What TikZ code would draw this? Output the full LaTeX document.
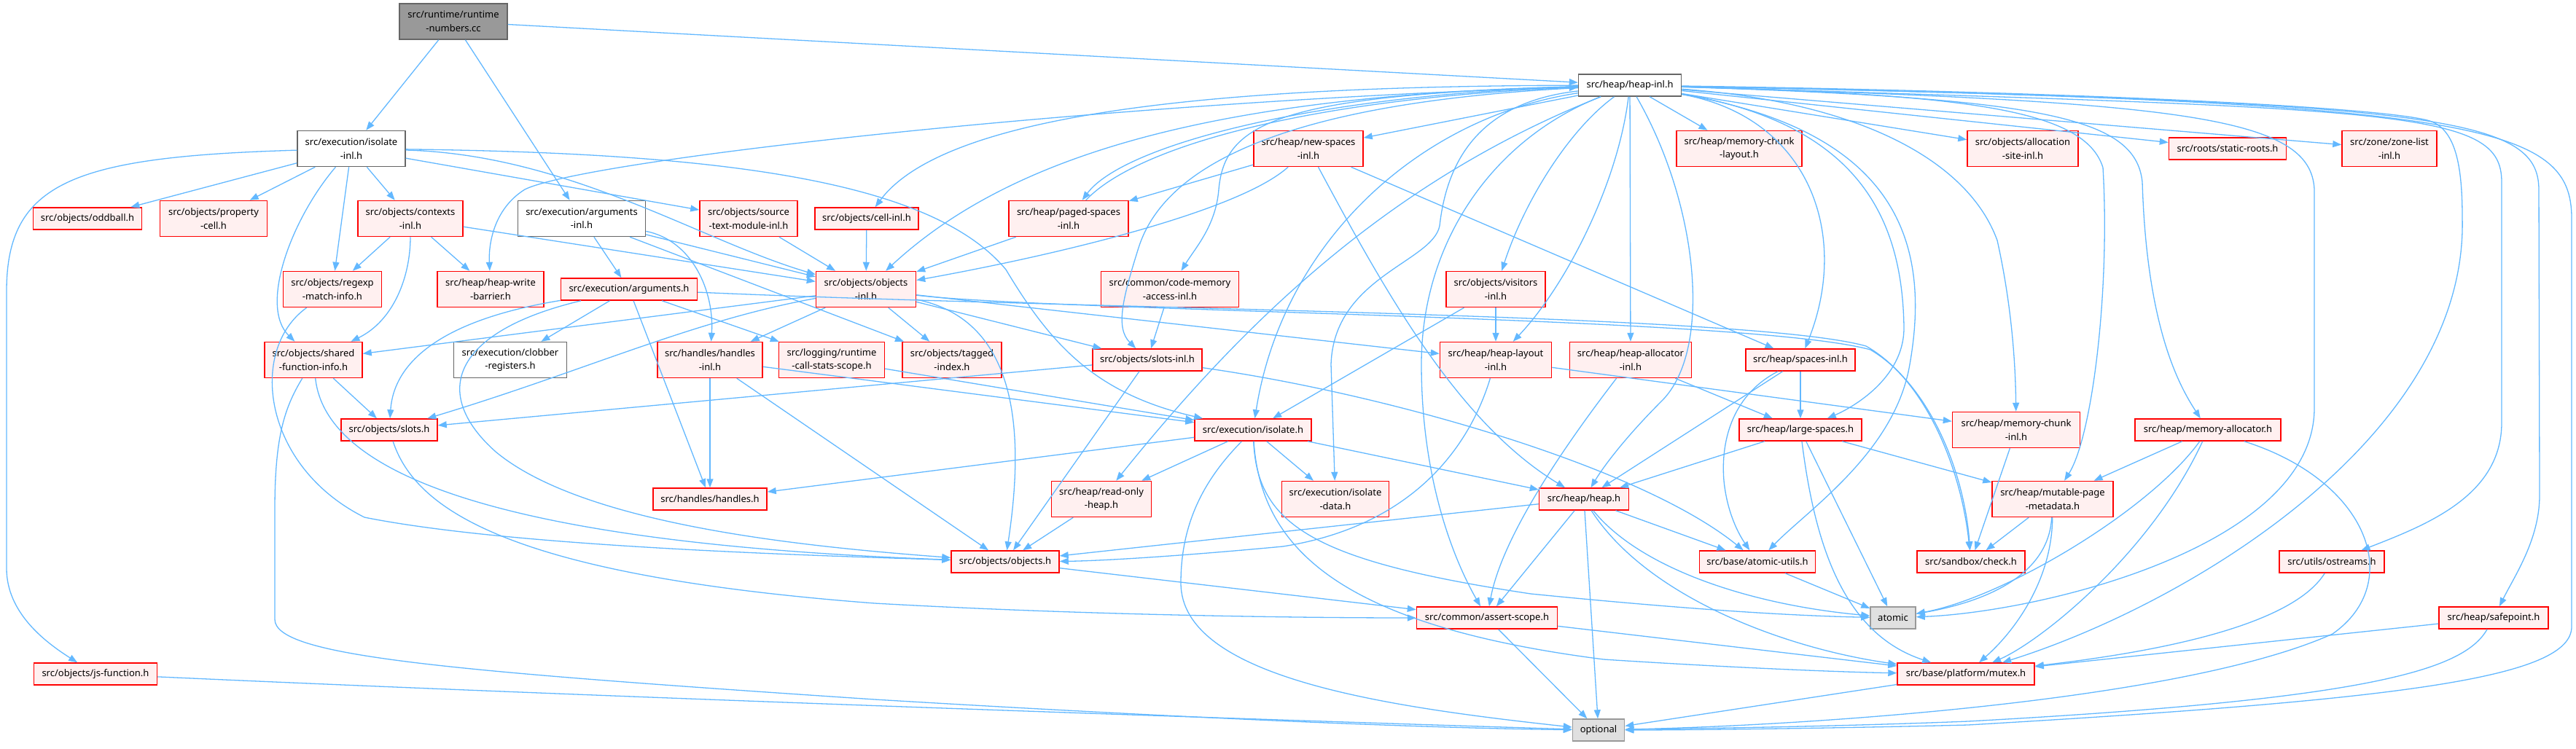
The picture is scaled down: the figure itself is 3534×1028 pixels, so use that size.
\documentclass[tikz,border=0pt]{standalone}
\usepackage{fontspec}
\setmainfont{Noto Sans}
\usetikzlibrary{arrows.meta}
\definecolor{edgec}{HTML}{63B8FF}
\definecolor{ndred}{HTML}{FF0000}
\definecolor{ndfill}{HTML}{FFF0F0}
\definecolor{ndgray}{HTML}{666666}
\definecolor{rootfill}{HTML}{999999}
\definecolor{leafdraw}{HTML}{999999}
\definecolor{leaffill}{HTML}{E0E0E0}
\newcommand{\ndfont}{\fontsize{13pt}{18.5pt}\selectfont}
\tikzset{
  box/.style={draw, rectangle, inner sep=0pt, align=center, line width=1.5pt, font=\ndfont, minimum height=30pt},
  two/.style={minimum height=49pt},
  hot/.style={box, draw=ndred, fill=ndfill},
  plain/.style={box, draw=ndgray, fill=white},
  rootnd/.style={box, draw=ndgray, fill=rootfill},
  leafnd/.style={box, draw=leafdraw, fill=leaffill},
  ed/.style={draw=edgec, line width=1.3pt, -{Triangle[length=12pt,width=9pt]}}
}
\begin{document}
\begin{tikzpicture}[x=1pt,y=-1pt]
\useasboundingbox (0,0) rectangle (3534,1028);
% nodes
\node[rootnd,two,minimum width=148pt] (RN) at (622,29.5) {src/runtime/runtime\\-numbers.cc};
\node[plain,minimum width=141pt] (HI) at (2236,117) {src/heap/heap-inl.h};
\node[plain,two,minimum width=148pt] (II) at (482,204) {src/execution/isolate\\-inl.h};
\node[hot,two,minimum width=150pt] (NS) at (1795,204) {src/heap/new-spaces\\-inl.h};
\node[hot,two,minimum width=172pt] (MCL) at (2386,204) {src/heap/memory-chunk\\-layout.h};
\node[hot,two,minimum width=152pt] (ASI) at (2775,204) {src/objects/allocation\\-site-inl.h};
\node[hot,minimum width=161pt] (SR) at (3056,204) {src/roots/static-roots.h};
\node[hot,two,minimum width=130pt] (ZL) at (3278,204) {src/zone/zone-list\\-inl.h};
\node[hot,minimum width=149pt] (OB) at (120,300) {src/objects/oddball.h};
\node[hot,two,minimum width=147pt] (PC) at (293,300) {src/objects/property\\-cell.h};
\node[hot,two,minimum width=144pt] (CI) at (563,300) {src/objects/contexts\\-inl.h};
\node[plain,two,minimum width=175pt] (AI) at (798,300) {src/execution/arguments\\-inl.h};
\node[hot,two,minimum width=134pt] (ST) at (1027,300) {src/objects/source\\-text-module-inl.h};
\node[hot,minimum width=142pt] (CL) at (1189,300) {src/objects/cell-inl.h};
\node[hot,two,minimum width=164pt] (PS) at (1466,300) {src/heap/paged-spaces\\-inl.h};
\node[hot,two,minimum width=135pt] (RX) at (456,397) {src/objects/regexp\\-match-info.h};
\node[hot,two,minimum width=146pt] (HWB) at (673,397) {src/heap/heap-write\\-barrier.h};
\node[hot,minimum width=187pt] (AH) at (863,397) {src/execution/arguments.h};
\node[hot,two,minimum width=137pt] (OI) at (1188,397) {src/objects/objects\\-inl.h};
\node[hot,two,minimum width=189pt] (CMA) at (1605,397) {src/common/code-memory\\-access-inl.h};
\node[hot,two,minimum width=136pt] (VI) at (2052,397) {src/objects/visitors\\-inl.h};
\node[hot,two,minimum width=134pt] (SFI) at (430,494) {src/objects/shared\\-function-info.h};
\node[plain,two,minimum width=155pt] (CR) at (700,494) {src/execution/clobber\\-registers.h};
\node[hot,two,minimum width=144pt] (HDI) at (974,494) {src/handles/handles\\-inl.h};
\node[hot,two,minimum width=145pt] (RCS) at (1141,494) {src/logging/runtime\\-call-stats-scope.h};
\node[hot,two,minimum width=136pt] (TI) at (1306,494) {src/objects/tagged\\-index.h};
\node[hot,minimum width=150pt] (SLI) at (1574,494) {src/objects/slots-inl.h};
\node[hot,two,minimum width=153pt] (HLI) at (2052,494) {src/heap/heap-layout\\-inl.h};
\node[hot,two,minimum width=167pt] (HAI) at (2237,494) {src/heap/heap-allocator\\-inl.h};
\node[hot,minimum width=150pt] (SPI) at (2470,494) {src/heap/spaces-inl.h};
\node[hot,minimum width=132pt] (SL) at (534,590) {src/objects/slots.h};
\node[hot,minimum width=160pt] (IS) at (1719,590) {src/execution/isolate.h};
\node[hot,minimum width=168pt] (LS) at (2470,590) {src/heap/large-spaces.h};
\node[hot,two,minimum width=175pt] (MCI) at (2766,590) {src/heap/memory-chunk\\-inl.h};
\node[hot,minimum width=200pt] (MA) at (3029,590) {src/heap/memory-allocator.h};
\node[hot,minimum width=156pt] (HD) at (974,685) {src/handles/handles.h};
\node[hot,two,minimum width=137pt] (ROH) at (1511,685) {src/heap/read-only\\-heap.h};
\node[hot,two,minimum width=147pt] (ID) at (1832,685) {src/execution/isolate\\-data.h};
\node[hot,minimum width=123pt] (HP) at (2173,685) {src/heap/heap.h};
\node[hot,two,minimum width=166pt] (MPM) at (2816,685) {src/heap/mutable-page\\-metadata.h};
\node[hot,minimum width=148pt] (OBJ) at (1379,771) {src/objects/objects.h};
\node[hot,minimum width=159pt] (AU) at (2411,771) {src/base/atomic-utils.h};
\node[hot,minimum width=148pt] (CK) at (2704,771) {src/sandbox/check.h};
\node[hot,minimum width=144pt] (OS) at (3199,771) {src/utils/ostreams.h};
\node[hot,minimum width=193pt] (ASC) at (2040,848) {src/common/assert-scope.h};
\node[leafnd,minimum width=62pt] (AT) at (2597,848) {atomic};
\node[hot,minimum width=150pt] (SP) at (3421,848) {src/heap/safepoint.h};
\node[hot,minimum width=169pt] (JF) at (131,925) {src/objects/js-function.h};
\node[hot,minimum width=188pt] (MX) at (2697,925) {src/base/platform/mutex.h};
\node[leafnd,minimum width=71pt] (OP) at (2193,1002) {optional};
% edges from runtime-numbers
\draw[ed] (RN) -- (II);
\draw[ed] (RN) -- (AI);
\draw[ed] (RN) -- (HI);
% isolate-inl
\draw[ed] (II) .. controls (100,215) and (9,250) .. (9,400) -- (9,780) .. controls (9,840) and (60,880) .. (JF);
\draw[ed] (II) -- (OB);
\draw[ed] (II) -- (PC);
\draw[ed] (II) .. controls (400,300) and (355,420) .. (SFI);
\draw[ed] (II) -- (RX);
\draw[ed] (II) -- (CI);
\draw[ed] (II) -- (ST);
\draw[ed] (II) .. controls (780,212) and (960,330) .. (OI);
\draw[ed] (II) .. controls (1000,210) and (1280,250) .. (1380,370) .. controls (1440,470) and (1500,540) .. (IS);
% contexts-inl
\draw[ed] (CI) -- (RX);
\draw[ed] (CI) -- (HWB);
\draw[ed] (CI) .. controls (563,380) and (540,440) .. (SFI);
\draw[ed] (CI) -- (OI);
% arguments-inl
\draw[ed] (AI) -- (AH);
\draw[ed] (AI) .. controls (950,330) and (980,400) .. (HDI);
\draw[ed] (AI) -- (OI);
\draw[ed] (AI) -- (TI);
% arguments.h
\draw[ed] (AH) -- (CR);
\draw[ed] (AH) .. controls (600,440) and (540,500) .. (SL);
\draw[ed] (AH) -- (HD);
\draw[ed] (AH) -- (RCS);
\draw[ed] (AH) .. controls (620,455) and (590,540) .. (680,620) .. controls (800,720) and (1100,750) .. (OBJ);
\draw[ed] (AH) .. controls (1500,425) and (2400,430) .. (2560,475) .. controls (2640,520) and (2690,640) .. (CK);
% objects-inl
\draw[ed] (OI) .. controls (1450,428) and (2400,434) .. (2566,480) .. controls (2644,526) and (2694,642) .. (CK);
\draw[ed] (OI) -- (SFI);
\draw[ed] (OI) .. controls (950,440) and (800,510) .. (SL);
\draw[ed] (OI) -- (HDI);
\draw[ed] (OI) -- (TI);
\draw[ed] (OI) -- (SLI);
\draw[ed] (OI) -- (HLI);
\draw[ed] (OI) .. controls (1400,440) and (1405,600) .. (OBJ);
% misc into objects-inl
\draw[ed] (ST) -- (OI);
\draw[ed] (CL) -- (OI);
\draw[ed] (PS) -- (OI);
\draw[ed] (PS) .. controls (1560,200) and (1800,135) .. (HI);
\draw[ed] (NS) .. controls (1700,290) and (1450,350) .. (OI);
\draw[ed] (NS) -- (PS);
\draw[ed] (NS) -- (SPI);
\draw[ed] (NS) .. controls (1900,400) and (2000,580) .. (HP);
% heap-inl fan
\draw[ed] (HI) -- (NS);
\draw[ed] (HI) -- (MCL);
\draw[ed] (HI) -- (ASI);
\draw[ed] (HI) -- (SR);
\draw[ed] (HI) -- (ZL);
\draw[ed] (HI) .. controls (1800,130) and (1540,200) .. (PS);
\draw[ed] (HI) .. controls (1700,118) and (1300,150) .. (CL);
\draw[ed] (HI) .. controls (1700,130) and (1400,200) .. (OI);
\draw[ed] (HI) .. controls (1750,130) and (1680,170) .. (1672,260) .. controls (1668,310) and (1640,340) .. (CMA);
\draw[ed] (HI) .. controls (1780,140) and (1600,220) .. (1562,340) .. controls (1540,410) and (1530,450) .. (SLI);
\draw[ed] (HI) .. controls (1500,140) and (800,220) .. (720,260) .. controls (680,285) and (670,330) .. (HWB);
\draw[ed] (HI) .. controls (2150,180) and (2090,280) .. (VI);
\draw[ed] (HI) .. controls (2220,250) and (2150,390) .. (HLI);
\draw[ed] (HI) -- (HAI);
\draw[ed] (HI) .. controls (2480,160) and (2540,320) .. (SPI);
\draw[ed] (HI) .. controls (2330,280) and (2350,480) .. (2280,550) .. controls (2230,600) and (2200,640) .. (HP);
\draw[ed] (HI) .. controls (2550,170) and (2610,300) .. (2612,450) .. controls (2612,520) and (2540,560) .. (LS);
\draw[ed] (HI) .. controls (2600,180) and (2650,330) .. (2620,500) .. controls (2600,620) and (2480,700) .. (AU);
\draw[ed] (HI) .. controls (1900,250) and (1700,450) .. (ROH);
\draw[ed] (HI) .. controls (2030,140) and (1985,220) .. (1975,310) .. controls (1965,360) and (1830,380) .. (1826,500) -- (ID);
\draw[ed] (HI) .. controls (1950,160) and (1760,330) .. (IS);
\draw[ed] (HI) .. controls (2050,190) and (1950,330) .. (1950,500) .. controls (1950,650) and (1990,760) .. (ASC);
\draw[ed] (HI) .. controls (2550,140) and (2700,220) .. (2740,330) .. controls (2760,420) and (2765,500) .. (MCI);
\draw[ed] (HI) .. controls (2700,130) and (2860,150) .. (2885,230) .. controls (2895,400) and (2870,600) .. (MPM);
\draw[ed] (HI) .. controls (2800,135) and (2930,160) .. (2939,250) .. controls (2945,450) and (2990,530) .. (MA);
\draw[ed] (HI) .. controls (3000,140) and (3170,160) .. (3175,260) -- (3175,560) .. controls (3175,750) and (2800,840) .. (AT);
\draw[ed] (HI) .. controls (2800,125) and (3250,145) .. (3330,165) .. controls (3370,175) and (3378,230) .. (3378,300) .. controls (3385,600) and (3000,830) .. (MX);
\draw[ed] (HI) .. controls (3300,150) and (3432,150) .. (3432,250) -- (3432,580) .. controls (3432,680) and (3330,720) .. (OS);
\draw[ed] (HI) .. controls (3350,140) and (3482,160) .. (3483,260) -- (3484,680) .. controls (3484,740) and (3450,790) .. (SP);
\draw[ed] (HI) .. controls (3400,140) and (3528,170) .. (3528,300) -- (3528,860) .. controls (3528,930) and (3300,960) .. (2700,995) .. controls (2500,1000) and (2300,1002) .. (OP);
% visitors, code-memory
\draw[ed] (VI) -- (HLI);
\draw[ed] (VI) -- (IS);
\draw[ed] (CMA) -- (SLI);
% slots-inl
\draw[ed] (SLI) -- (SL);
\draw[ed] (SLI) -- (OBJ);
\draw[ed] (SLI) .. controls (1900,540) and (2250,640) .. (AU);
% shared-function-info
\draw[ed] (SFI) -- (SL);
\draw[ed] (SFI) .. controls (450,680) and (800,750) .. (OBJ);
\draw[ed] (SFI) .. controls (390,560) and (377,600) .. (377,700) -- (377,850) .. controls (377,900) and (600,920) .. (1200,960) .. controls (1700,990) and (2000,1000) .. (OP);
\draw[ed] (JF) .. controls (900,960) and (1800,990) .. (OP);
\draw[ed] (RX) .. controls (340,480) and (360,640) .. (500,710) .. controls (700,750) and (1100,762) .. (OBJ);
\draw[ed] (SL) .. controls (570,700) and (700,790) .. (1200,828) .. controls (1500,845) and (1800,848) .. (ASC);
% handles-inl, runtime-call-stats
\draw[ed] (HDI) -- (HD);
\draw[ed] (HDI) -- (OBJ);
\draw[ed] (HDI) -- (IS);
\draw[ed] (RCS) -- (IS);
% isolate.h
\draw[ed] (IS) -- (HD);
\draw[ed] (IS) -- (ROH);
\draw[ed] (IS) -- (ID);
\draw[ed] (IS) -- (HP);
\draw[ed] (IS) .. controls (1650,660) and (1620,720) .. (1620,800) .. controls (1620,930) and (1900,970) .. (OP);
\draw[ed] (IS) .. controls (1725,720) and (1800,770) .. (2100,815) .. controls (2300,835) and (2450,845) .. (AT);
\draw[ed] (IS) .. controls (1730,760) and (1850,860) .. (2200,905) .. controls (2400,918) and (2550,923) .. (MX);
\draw[ed] (ROH) -- (OBJ);
% heap.h and heap layer
\draw[ed] (HP) -- (OBJ);
\draw[ed] (HLI) .. controls (2020,600) and (1950,720) .. (1760,750) .. controls (1600,765) and (1500,770) .. (OBJ);
\draw[ed] (HLI) -- (MCI);
\draw[ed] (HAI) .. controls (2140,620) and (2060,740) .. (ASC);
\draw[ed] (HAI) -- (LS);
\draw[ed] (SPI) -- (LS);
\draw[ed] (SPI) -- (HP);
\draw[ed] (SPI) .. controls (2380,540) and (2360,600) .. (2365,660) .. controls (2370,710) and (2390,740) .. (AU);
\draw[ed] (LS) -- (HP);
\draw[ed] (LS) -- (AT);
\draw[ed] (LS) .. controls (2490,750) and (2530,870) .. (MX);
\draw[ed] (LS) -- (MPM);
\draw[ed] (HP) -- (ASC);
\draw[ed] (HP) -- (OP);
\draw[ed] (HP) -- (AU);
\draw[ed] (HP) .. controls (2250,780) and (2400,830) .. (AT);
\draw[ed] (HP) .. controls (2260,820) and (2450,890) .. (MX);
\draw[ed] (AU) -- (AT);
\draw[ed] (MCI) -- (CK);
\draw[ed] (MPM) -- (CK);
\draw[ed] (MPM) .. controls (2810,800) and (2700,830) .. (AT);
\draw[ed] (MPM) .. controls (2815,800) and (2760,870) .. (MX);
\draw[ed] (MA) -- (MPM);
\draw[ed] (MA) .. controls (2950,700) and (2750,820) .. (AT);
\draw[ed] (MA) .. controls (2950,760) and (2800,880) .. (MX);
\draw[ed] (MA) .. controls (3250,660) and (3300,800) .. (3200,870) .. controls (3000,960) and (2500,995) .. (OP);
\draw[ed] (OS) .. controls (3150,850) and (3000,890) .. (MX);
\draw[ed] (SP) -- (MX);
\draw[ed] (SP) .. controls (3380,920) and (3250,960) .. (2700,990) .. controls (2500,998) and (2300,1000) .. (OP);
\draw[ed] (ASC) -- (OP);
\draw[ed] (ASC) -- (MX);
\draw[ed] (MX) -- (OP);
\draw[ed] (OBJ) -- (ASC);
\end{tikzpicture}
\end{document}
